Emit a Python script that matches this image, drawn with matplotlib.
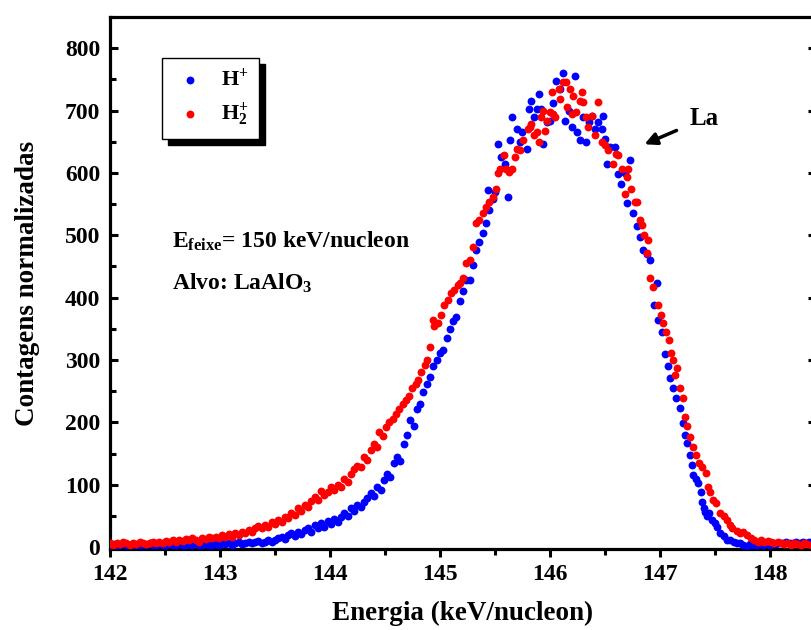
import matplotlib
matplotlib.use("Agg")
import matplotlib.pyplot as plt
from matplotlib.ticker import MultipleLocator

# H+ (blue) spectrum: energy (keV/nucleon) and normalized counts
e_h1 = [142.00, 142.03, 142.06, 142.09, 142.12, 142.15, 142.18, 142.21, 142.24, 142.27,
        142.30, 142.33, 142.36, 142.39, 142.42, 142.45, 142.48, 142.51, 142.54, 142.57,
        142.60, 142.63, 142.66, 142.69, 142.72, 142.75, 142.78, 142.81, 142.84, 142.87,
        142.90, 142.93, 142.96, 142.99, 143.02, 143.05, 143.08, 143.11, 143.14, 143.17,
        143.20, 143.23, 143.26, 143.29, 143.32, 143.35, 143.38, 143.41, 143.44, 143.47,
        143.50, 143.53, 143.56, 143.59, 143.62, 143.65, 143.68, 143.71, 143.74, 143.77,
        143.80, 143.83, 143.86, 143.89, 143.92, 143.95, 143.98, 144.01, 144.04, 144.07,
        144.10, 144.13, 144.16, 144.19, 144.22, 144.25, 144.28, 144.31, 144.34, 144.37,
        144.40, 144.43, 144.46, 144.49, 144.52, 144.55, 144.58, 144.61, 144.64, 144.67,
        144.70, 144.73, 144.76, 144.79, 144.82, 144.85, 144.88, 144.91, 144.94, 144.97,
        145.00, 145.03, 145.06, 145.09, 145.12, 145.15, 145.18, 145.21, 145.24, 145.27,
        145.30, 145.33, 145.36, 145.39, 145.42, 145.45, 145.44, 145.48, 145.50, 145.53,
        145.56, 145.59, 145.62, 145.64, 145.66, 145.70, 145.73, 145.75, 145.79, 145.81,
        145.83, 145.86, 145.88, 145.90, 145.92, 145.94, 145.97, 146.00, 146.03, 146.06,
        146.09, 146.12, 146.14, 146.17, 146.20, 146.23, 146.25, 146.27, 146.30, 146.33,
        146.36, 146.38, 146.41, 146.44, 146.47, 146.48, 146.50, 146.52, 146.55, 146.59,
        146.62, 146.65, 146.68, 146.70, 146.73, 146.76, 146.79, 146.82, 146.85, 146.88,
        146.91, 146.95, 146.97, 146.98, 147.02, 147.05, 147.07, 147.09, 147.12, 147.15,
        147.18, 147.21, 147.23, 147.25, 147.27, 147.29, 147.30, 147.33, 147.35, 147.37,
        147.38, 147.40, 147.41, 147.43, 147.45, 147.47, 147.50, 147.52, 147.55, 147.58,
        147.61, 147.64, 147.67, 147.70, 147.73, 147.76, 147.79, 147.82, 147.85, 147.88,
        147.91, 147.94, 147.97, 148.00, 148.03, 148.06, 148.09, 148.12, 148.15, 148.18,
        148.21, 148.24, 148.27, 148.30, 148.33, 148.36, 148.39, 148.42]
c_h1 = [4, 5, 3, 4, 6, 4, 3, 5, 4, 3,
        5, 4, 6, 3, 4, 5, 3, 4, 6, 4,
        3, 5, 4, 3, 5, 4, 6, 3, 4, 5,
        4, 3, 5, 4, 6, 5, 7, 4, 6, 8,
        5, 7, 9, 6, 8, 10, 7, 9, 12, 8,
        11, 14, 17, 13, 19, 22, 18, 24, 21, 27,
        30, 25, 36, 31, 38, 33, 42, 37, 45, 40,
        48, 55, 50, 62, 58, 68, 64, 72, 79, 86,
        82, 96, 92, 108, 118, 112, 135, 145, 138, 165,
        180, 204, 195, 222, 230, 248, 262, 272, 290, 300,
        312, 316, 336, 350, 362, 369, 395, 410, 428, 428,
        452, 476, 490, 503, 520, 540, 572, 558, 569, 647,
        625, 615, 561, 652, 689, 671, 650, 665, 639, 703,
        716, 690, 703, 727, 703, 647, 681, 684, 712, 748,
        735, 760, 684, 700, 673, 756, 665, 652, 690, 649,
        682, 692, 670, 681, 671, 692, 655, 615, 641, 641,
        599, 583, 600, 551, 620, 535, 515, 497, 476, 470,
        460, 388, 423, 364, 345, 310, 290, 271, 255, 239,
        223, 199, 180, 167, 147, 131, 115, 110, 103, 88,
        72, 62, 56, 50, 54, 44, 38, 32, 22, 18,
        11, 12, 8, 6, 7, 4, 2, 5, 3, 4,
        6, 3, 5, 4, 6, 5, 7, 6, 8, 6,
        7, 9, 6, 8, 7, 9, 7, 8]

# H2+ (red) spectrum
e_h2 = [142.00, 142.03, 142.06, 142.09, 142.12, 142.15, 142.18, 142.21, 142.24, 142.27,
        142.30, 142.33, 142.36, 142.39, 142.42, 142.45, 142.48, 142.51, 142.54, 142.57,
        142.60, 142.63, 142.66, 142.69, 142.72, 142.75, 142.78, 142.81, 142.84, 142.87,
        142.90, 142.93, 142.96, 142.99, 143.02, 143.05, 143.08, 143.11, 143.14, 143.17,
        143.20, 143.23, 143.26, 143.29, 143.32, 143.35, 143.38, 143.41, 143.44, 143.47,
        143.50, 143.53, 143.56, 143.59, 143.62, 143.65, 143.68, 143.71, 143.74, 143.77,
        143.80, 143.83, 143.86, 143.89, 143.92, 143.95, 143.98, 144.01, 144.04, 144.07,
        144.10, 144.13, 144.16, 144.19, 144.22, 144.25, 144.28, 144.31, 144.34, 144.37,
        144.40, 144.43, 144.45, 144.48, 144.51, 144.54, 144.57, 144.60, 144.63, 144.66,
        144.69, 144.72, 144.75, 144.78, 144.80, 144.83, 144.86, 144.88, 144.91, 144.94,
        144.95, 144.98, 145.01, 145.04, 145.07, 145.10, 145.13, 145.16, 145.18, 145.21,
        145.24, 145.27, 145.30, 145.33, 145.36, 145.39, 145.42, 145.45, 145.48, 145.51,
        145.53, 145.55, 145.58, 145.60, 145.63, 145.66, 145.68, 145.70, 145.73, 145.76,
        145.80, 145.82, 145.83, 145.86, 145.88, 145.90, 145.92, 145.94, 145.96, 145.97,
        146.00, 146.02, 146.03, 146.05, 146.08, 146.09, 146.12, 146.15, 146.16, 146.18,
        146.20, 146.21, 146.24, 146.27, 146.29, 146.30, 146.33, 146.35, 146.38, 146.41,
        146.44, 146.47, 146.50, 146.53, 146.57, 146.60, 146.62, 146.66, 146.68, 146.70,
        146.71, 146.74, 146.77, 146.79, 146.82, 146.84, 146.86, 146.88, 146.89, 146.91,
        146.94, 146.98, 147.01, 147.03, 147.06, 147.08, 147.10, 147.12, 147.14, 147.16,
        147.18, 147.21, 147.23, 147.25, 147.27, 147.30, 147.33, 147.36, 147.38, 147.42,
        147.44, 147.46, 147.48, 147.51, 147.55, 147.58, 147.61, 147.64, 147.66, 147.70,
        147.73, 147.76, 147.79, 147.83, 147.86, 147.89, 147.92, 147.95, 147.98, 148.01,
        148.04, 148.07, 148.10, 148.13, 148.16, 148.19, 148.22, 148.25, 148.28, 148.31,
        148.34, 148.37, 148.40]
c_h2 = [6, 4, 7, 5, 8, 6, 4, 7, 5, 8,
        6, 5, 7, 9, 6, 8, 7, 10, 8, 11,
        9, 12, 10, 13, 11, 14, 12, 8, 15, 13,
        16, 14, 17, 14, 19, 17, 21, 16, 23, 20,
        25, 22, 27, 24, 30, 34, 31, 36, 33, 40,
        37, 44, 41, 49, 46, 55, 52, 62, 58, 68,
        64, 74, 80, 76, 90, 84, 88, 97, 92, 100,
        96, 110, 104, 118, 125, 130, 128, 145, 140, 155,
        165, 160, 184, 178, 192, 200, 206, 214, 222, 230,
        236, 242, 255, 262, 268, 280, 292, 300, 321, 364,
        355, 360, 372, 388, 396, 408, 412, 420, 423, 432,
        455, 460, 481, 519, 525, 535, 545, 553, 561, 575,
        600, 607, 628, 607, 602, 607, 625, 639, 636, 652,
        671, 673, 679, 660, 665, 649, 690, 700, 668, 684,
        697, 729, 695, 689, 735, 719, 745, 745, 705, 735,
        695, 724, 697, 715, 729, 713, 690, 673, 692, 660,
        713, 649, 645, 636, 615, 631, 628, 607, 567, 593,
        607, 575, 553, 553, 524, 516, 500, 471, 492, 431,
        417, 388, 372, 359, 345, 332, 312, 300, 276, 287,
        255, 239, 208, 195, 176, 160, 147, 135, 128, 119,
        96, 88, 75, 70, 54, 50, 43, 36, 30, 26,
        22, 24, 19, 14, 11, 9, 12, 8, 10, 8,
        7, 9, 6, 5, 7, 4, 6, 5, 4, 6,
        5, 4, 5]

plt.rcParams["font.family"] = "Liberation Serif"
plt.rcParams["font.weight"] = "bold"
plt.rcParams["axes.labelweight"] = "bold"
plt.rcParams["mathtext.fontset"] = "custom"
plt.rcParams["mathtext.rm"] = "Liberation Serif:bold"
plt.rcParams["mathtext.it"] = "Liberation Serif:bold"
plt.rcParams["mathtext.bf"] = "Liberation Serif:bold"

W, H = 811, 630
fig = plt.figure(figsize=(W / 100, H / 100), dpi=100)
# axes box in pixels: left 110, right 816 (just outside), top 17, bottom 549
ax = fig.add_axes([110 / W, 1 - 549 / H, 706 / W, 532 / H])

ax.scatter(e_h1, c_h1, s=32, color="#0000ff", linewidths=0, label=r"H$^{+}$", zorder=3)
ax.scatter(e_h2, c_h2, s=32, color="#ff0000", linewidths=0, label=r"H$^{+}_{2}$", zorder=3)

ax.set_xlim(142, 148.42)
ax.set_ylim(-3, 850)

ax.xaxis.set_major_locator(MultipleLocator(1))
ax.xaxis.set_minor_locator(MultipleLocator(0.5))
ax.yaxis.set_major_locator(MultipleLocator(100))
ax.yaxis.set_minor_locator(MultipleLocator(50))

for sp in ax.spines.values():
    sp.set_linewidth(2.3)

ax.tick_params(axis="x", which="both", direction="out", width=2.2, labelsize=17, pad=5)
ax.tick_params(axis="x", which="major", length=6)
ax.tick_params(axis="x", which="minor", length=4)
ax.tick_params(axis="y", which="both", direction="in", width=2.2, labelsize=17, pad=7)
ax.tick_params(axis="y", which="major", length=6, right=True)
ax.tick_params(axis="y", which="minor", length=4, right=False)

ax.set_xlabel("Energia (keV/nucleon)", fontsize=19.5, labelpad=11)
ax.set_ylabel("Contagens normalizadas", fontsize=19.5, labelpad=18)

leg = ax.legend(loc="upper left", bbox_to_anchor=(0.0737, 0.923), borderaxespad=0,
                fontsize=16, frameon=True, fancybox=False, edgecolor="black",
                handletextpad=0.6, handlelength=1.6, labelspacing=0.45,
                borderpad=0.45, scatterpoints=1,
                shadow={"ox": 4.5, "oy": -4.5, "color": "black", "alpha": 1})
leg.get_frame().set_linewidth(1.0)

ax.text(142.56, 490, r"E$_{feixe}$= 150 keV/nucleon", fontsize=17, va="center", ha="left")
ax.text(142.56, 423, r"Alvo: LaAlO$_{3}$", fontsize=17, va="center", ha="left")

ax.annotate("La", xy=(146.86, 646), xytext=(147.27, 687), fontsize=18,
            va="center", ha="left",
            arrowprops=dict(arrowstyle="-|>", color="black", lw=2.5,
                            mutation_scale=18, shrinkA=8, shrinkB=0))

fig.savefig("out.png", dpi=100)
